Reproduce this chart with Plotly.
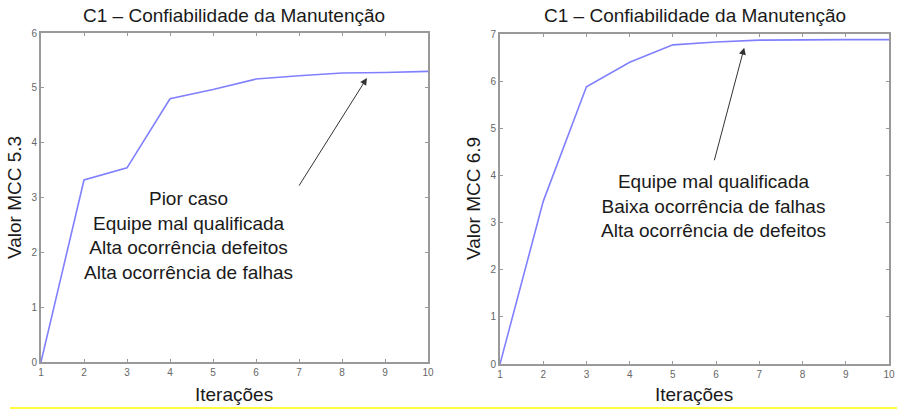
import plotly.graph_objects as go

iteracoes = [1, 2, 3, 4, 5, 6, 7, 8, 9, 10]
mcc_pior = [0, 3.32, 3.54, 4.8, 4.97, 5.16, 5.22, 5.27, 5.28, 5.3]
mcc_baixa = [0, 3.45, 5.88, 6.4, 6.77, 6.83, 6.87, 6.88, 6.88, 6.88]

titulo = "C1 – Confiabilidade da Manutenção"
titulo_x = "Iterações"
titulo_y_esq = "Valor MCC 5.3"
titulo_y_dir = "Valor MCC 6.9"
texto_esq = ["Pior caso", "Equipe mal qualificada", "Alta ocorrência defeitos", "Alta ocorrência de falhas"]
texto_dir = ["Equipe mal qualificada", "Baixa ocorrência de falhas", "Alta ocorrência de defeitos"]

W, H = 897, 410
FONT = "Liberation Sans, Arial, sans-serif"
LINE = "#8080ff"
FRAME = "#999999"
TXT = "#1a1a1a"

fig = go.Figure()
fig.add_trace(go.Scatter(x=iteracoes, y=mcc_pior, mode="lines",
                         line=dict(color=LINE, width=1.6), xaxis="x", yaxis="y", showlegend=False))
fig.add_trace(go.Scatter(x=iteracoes, y=mcc_baixa, mode="lines",
                         line=dict(color=LINE, width=1.6), xaxis="x2", yaxis="y2", showlegend=False))

def axis_common():
    return dict(showgrid=False, zeroline=False, showline=True, linecolor=FRAME, linewidth=2,
                mirror="ticks", ticks="inside", ticklen=3, tickcolor=FRAME, automargin=False,
                tickfont=dict(family=FONT, size=10, color="#666666"))

xl = axis_common(); xl.update(domain=[41 / W, 428 / W], range=[1, 10], tickvals=iteracoes, anchor="y")
yl = axis_common(); yl.update(domain=[1 - 362 / H, 1 - 33 / H], range=[0, 6], dtick=1, anchor="x")
xr = axis_common(); xr.update(domain=[500 / W, 889 / W], range=[1, 10], tickvals=iteracoes, anchor="y2")
yr = axis_common(); yr.update(domain=[1 - 364 / H, 1 - 34 / H], range=[0, 7], dtick=1, anchor="x2")

def ptxt(text, px, py, size=19, angle=0):
    return dict(text=text, x=px / W, y=1 - py / H, xref="paper", yref="paper", xanchor="center",
                yanchor="middle", showarrow=False, textangle=angle,
                font=dict(family=FONT, size=size, color=TXT))

annotations = [
    ptxt(titulo, (41 + 428) / 2, 15),
    ptxt(titulo, (500 + 889) / 2, 15),
    ptxt(titulo_x, 234, 394),
    ptxt(titulo_x, 694, 394),
    ptxt(titulo_y_esq, 14, 198, angle=-90),
    ptxt(titulo_y_dir, 473, 199, angle=-90),
    dict(text="<br>".join(texto_esq), x=4.44, y=2.3, xref="x", yref="y", showarrow=False,
         xanchor="center", yanchor="middle",
         font=dict(family=FONT, size=19, color=TXT), align="center"),
    dict(text="<br>".join(texto_dir), x=5.95, y=3.35, xref="x2", yref="y2", showarrow=False,
         xanchor="center", yanchor="middle",
         font=dict(family=FONT, size=19, color=TXT), align="center"),
    dict(text="", x=8.58, y=5.18, ax=6.98, ay=3.19, xref="x", yref="y", axref="x", ayref="y",
         showarrow=True, arrowhead=2, arrowsize=1.4, arrowwidth=1, arrowcolor="#333"),
    dict(text="", x=6.65, y=6.71, ax=5.95, ay=4.29, xref="x2", yref="y2", axref="x2", ayref="y2",
         showarrow=True, arrowhead=2, arrowsize=1.4, arrowwidth=1, arrowcolor="#333"),
]

fig.update_layout(
    width=W, height=H, margin=dict(l=0, r=0, t=0, b=0, autoexpand=False),
    paper_bgcolor="white", plot_bgcolor="white",
    xaxis=xl, yaxis=yl, xaxis2=xr, yaxis2=yr,
    annotations=annotations,
    shapes=[dict(type="line", xref="paper", yref="paper", x0=10 / W, x1=1, y0=2 / H, y1=2 / H,
                 line=dict(color="#ffff40", width=2))],
)

fig.write_html("out.html", config={"displayModeBar": False},
               post_script="document.body.style.margin='0';document.body.style.overflow='hidden';")
